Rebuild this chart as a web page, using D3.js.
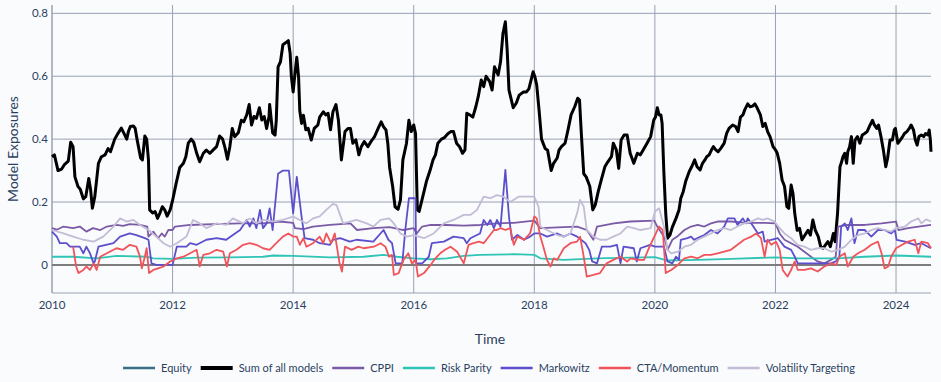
<!DOCTYPE html>
<html>
<head>
<meta charset="utf-8">
<script src="https://cdn.jsdelivr.net/npm/d3@7"></script>
<style>
  body { margin: 0; background: #fafbfd; }
  svg { display: block; font-family: Lato, "Open Sans", sans-serif; }
</style>
</head>
<body>
<div id="chart"></div>
<script>
// values, [decimal year, exposure]
var sumAll = [[2010.0,0.344],[2010.04,0.35],[2010.1,0.30],[2010.16,0.305],[2010.21,0.32],[2010.27,0.33],[2010.31,0.39],[2010.35,0.375],[2010.38,0.28],[2010.43,0.25],[2010.47,0.24],[2010.52,0.21],[2010.56,0.217],[2010.61,0.275],[2010.64,0.24],[2010.67,0.18],[2010.71,0.217],[2010.77,0.323],[2010.82,0.344],[2010.88,0.35],[2010.93,0.37],[2010.97,0.36],[2011.04,0.40],[2011.1,0.42],[2011.15,0.435],[2011.19,0.42],[2011.24,0.40],[2011.27,0.426],[2011.30,0.44],[2011.35,0.442],[2011.38,0.434],[2011.41,0.40],[2011.47,0.34],[2011.5,0.334],[2011.54,0.41],[2011.57,0.40],[2011.6,0.334],[2011.62,0.175],[2011.67,0.165],[2011.71,0.17],[2011.75,0.148],[2011.79,0.165],[2011.83,0.185],[2011.87,0.175],[2011.91,0.155],[2011.96,0.175],[2012.0,0.205],[2012.06,0.26],[2012.12,0.31],[2012.18,0.323],[2012.22,0.344],[2012.26,0.387],[2012.31,0.40],[2012.35,0.39],[2012.4,0.355],[2012.45,0.328],[2012.51,0.355],[2012.56,0.365],[2012.62,0.355],[2012.67,0.365],[2012.73,0.376],[2012.78,0.41],[2012.83,0.40],[2012.87,0.372],[2012.91,0.336],[2012.95,0.376],[2012.99,0.434],[2013.03,0.408],[2013.09,0.42],[2013.14,0.46],[2013.18,0.455],[2013.23,0.477],[2013.27,0.51],[2013.31,0.445],[2013.35,0.472],[2013.39,0.466],[2013.44,0.50],[2013.48,0.461],[2013.52,0.472],[2013.56,0.434],[2013.6,0.472],[2013.61,0.51],[2013.66,0.42],[2013.7,0.413],[2013.72,0.46],[2013.75,0.63],[2013.79,0.646],[2013.83,0.70],[2013.88,0.707],[2013.92,0.713],[2013.95,0.673],[2013.97,0.60],[2014.0,0.55],[2014.03,0.608],[2014.06,0.66],[2014.09,0.598],[2014.11,0.49],[2014.14,0.45],[2014.17,0.476],[2014.21,0.43],[2014.25,0.434],[2014.30,0.397],[2014.35,0.434],[2014.41,0.445],[2014.44,0.47],[2014.50,0.487],[2014.54,0.477],[2014.58,0.482],[2014.62,0.43],[2014.66,0.487],[2014.71,0.51],[2014.75,0.461],[2014.80,0.334],[2014.86,0.424],[2014.91,0.434],[2014.95,0.434],[2014.99,0.387],[2015.04,0.398],[2015.09,0.35],[2015.13,0.376],[2015.18,0.392],[2015.24,0.376],[2015.29,0.392],[2015.35,0.408],[2015.41,0.434],[2015.46,0.455],[2015.5,0.439],[2015.54,0.429],[2015.57,0.387],[2015.6,0.31],[2015.65,0.25],[2015.69,0.185],[2015.74,0.177],[2015.78,0.207],[2015.82,0.334],[2015.88,0.387],[2015.92,0.46],[2015.96,0.424],[2016.0,0.445],[2016.03,0.418],[2016.06,0.175],[2016.09,0.17],[2016.15,0.217],[2016.21,0.265],[2016.27,0.30],[2016.32,0.334],[2016.36,0.35],[2016.4,0.387],[2016.46,0.40],[2016.51,0.405],[2016.57,0.418],[2016.62,0.424],[2016.66,0.424],[2016.71,0.387],[2016.76,0.376],[2016.81,0.355],[2016.85,0.366],[2016.88,0.482],[2016.93,0.477],[2016.98,0.47],[2017.03,0.503],[2017.07,0.535],[2017.12,0.588],[2017.16,0.567],[2017.2,0.60],[2017.26,0.583],[2017.3,0.556],[2017.34,0.63],[2017.4,0.604],[2017.44,0.646],[2017.48,0.736],[2017.52,0.773],[2017.55,0.683],[2017.58,0.556],[2017.62,0.524],[2017.65,0.50],[2017.7,0.514],[2017.75,0.54],[2017.82,0.55],[2017.87,0.55],[2017.91,0.56],[2017.98,0.614],[2018.01,0.598],[2018.04,0.572],[2018.08,0.49],[2018.12,0.40],[2018.18,0.37],[2018.22,0.365],[2018.28,0.30],[2018.32,0.323],[2018.38,0.34],[2018.41,0.365],[2018.45,0.376],[2018.51,0.387],[2018.56,0.43],[2018.61,0.477],[2018.67,0.503],[2018.72,0.53],[2018.75,0.524],[2018.78,0.418],[2018.82,0.29],[2018.86,0.28],[2018.89,0.265],[2018.92,0.25],[2018.97,0.175],[2019.01,0.19],[2019.06,0.233],[2019.11,0.27],[2019.17,0.312],[2019.22,0.328],[2019.28,0.344],[2019.31,0.387],[2019.36,0.366],[2019.40,0.307],[2019.44,0.397],[2019.49,0.413],[2019.54,0.413],[2019.59,0.355],[2019.65,0.323],[2019.71,0.355],[2019.76,0.35],[2019.82,0.37],[2019.87,0.387],[2019.93,0.408],[2019.98,0.46],[2020.01,0.47],[2020.04,0.50],[2020.07,0.477],[2020.1,0.477],[2020.12,0.45],[2020.15,0.29],[2020.18,0.164],[2020.21,0.085],[2020.25,0.095],[2020.29,0.12],[2020.35,0.148],[2020.4,0.175],[2020.43,0.212],[2020.47,0.233],[2020.51,0.265],[2020.57,0.297],[2020.61,0.312],[2020.66,0.334],[2020.7,0.312],[2020.75,0.302],[2020.79,0.323],[2020.83,0.334],[2020.86,0.344],[2020.9,0.35],[2020.94,0.366],[2020.97,0.376],[2021.01,0.366],[2021.05,0.36],[2021.09,0.37],[2021.15,0.387],[2021.19,0.418],[2021.23,0.434],[2021.29,0.445],[2021.34,0.44],[2021.38,0.424],[2021.42,0.47],[2021.46,0.477],[2021.49,0.493],[2021.54,0.512],[2021.58,0.503],[2021.62,0.505],[2021.66,0.512],[2021.7,0.498],[2021.75,0.477],[2021.79,0.44],[2021.83,0.45],[2021.87,0.424],[2021.91,0.408],[2021.96,0.376],[2022.0,0.366],[2022.03,0.355],[2022.07,0.323],[2022.11,0.27],[2022.15,0.25],[2022.19,0.185],[2022.22,0.18],[2022.26,0.254],[2022.29,0.228],[2022.32,0.164],[2022.36,0.11],[2022.4,0.116],[2022.44,0.08],[2022.49,0.095],[2022.54,0.11],[2022.58,0.095],[2022.62,0.143],[2022.66,0.111],[2022.71,0.09],[2022.75,0.058],[2022.79,0.053],[2022.83,0.064],[2022.87,0.074],[2022.91,0.058],[2022.96,0.10],[2022.99,0.074],[2023.03,0.164],[2023.07,0.312],[2023.09,0.323],[2023.12,0.344],[2023.15,0.355],[2023.18,0.323],[2023.2,0.36],[2023.23,0.376],[2023.26,0.408],[2023.29,0.323],[2023.32,0.397],[2023.36,0.408],[2023.4,0.387],[2023.44,0.413],[2023.48,0.418],[2023.52,0.424],[2023.57,0.445],[2023.61,0.46],[2023.64,0.445],[2023.68,0.434],[2023.71,0.445],[2023.75,0.408],[2023.79,0.365],[2023.83,0.312],[2023.86,0.339],[2023.9,0.397],[2023.94,0.397],[2023.97,0.429],[2023.99,0.434],[2024.03,0.387],[2024.07,0.397],[2024.11,0.408],[2024.14,0.418],[2024.18,0.424],[2024.22,0.434],[2024.25,0.445],[2024.29,0.429],[2024.32,0.397],[2024.35,0.381],[2024.38,0.408],[2024.42,0.413],[2024.46,0.408],[2024.49,0.418],[2024.53,0.413],[2024.55,0.429],[2024.57,0.397],[2024.58,0.36]];

var cppi = [[2010.0,0.117],[2010.08,0.112],[2010.19,0.122],[2010.35,0.117],[2010.46,0.122],[2010.57,0.106],[2010.68,0.117],[2010.8,0.111],[2010.91,0.122],[2011.07,0.127],[2011.18,0.124],[2011.29,0.13],[2011.46,0.127],[2011.58,0.122],[2011.6,0.09],[2011.68,0.106],[2011.76,0.085],[2011.82,0.1],[2011.87,0.09],[2011.93,0.111],[2012.0,0.111],[2012.04,0.122],[2012.29,0.127],[2012.67,0.13],[2013.12,0.132],[2013.5,0.132],[2013.78,0.138],[2014.0,0.134],[2014.03,0.117],[2014.17,0.114],[2014.33,0.122],[2014.61,0.127],[2014.95,0.132],[2015.06,0.111],[2015.33,0.117],[2015.6,0.12],[2015.83,0.111],[2016.0,0.117],[2016.05,0.1],[2016.14,0.122],[2016.28,0.127],[2016.55,0.127],[2016.83,0.125],[2017.1,0.127],[2017.38,0.132],[2017.66,0.134],[2018.0,0.141],[2018.1,0.117],[2018.49,0.12],[2018.71,0.122],[2018.87,0.111],[2018.98,0.08],[2019.04,0.122],[2019.32,0.132],[2019.59,0.138],[2019.99,0.141],[2020.04,0.122],[2020.15,0.09],[2020.21,0.048],[2020.29,0.08],[2020.37,0.09],[2020.49,0.111],[2020.6,0.122],[2020.71,0.127],[2020.82,0.122],[2020.93,0.132],[2021.04,0.138],[2021.26,0.138],[2021.54,0.134],[2021.82,0.134],[2022.0,0.132],[2022.07,0.1],[2022.15,0.08],[2022.26,0.069],[2022.37,0.058],[2022.48,0.042],[2022.59,0.026],[2022.7,0.011],[2022.81,0.005],[2022.92,0.016],[2023.0,0.026],[2023.04,0.122],[2023.2,0.127],[2023.48,0.127],[2023.76,0.132],[2024.0,0.138],[2024.04,0.111],[2024.2,0.117],[2024.37,0.122],[2024.58,0.127]];

var riskParity = [[2010.0,0.026],[2010.35,0.026],[2010.74,0.021],[2011.07,0.029],[2011.57,0.026],[2011.68,0.021],[2012.01,0.019],[2012.4,0.023],[2012.95,0.024],[2013.5,0.026],[2013.67,0.03],[2014.0,0.029],[2014.61,0.024],[2015.17,0.026],[2015.5,0.032],[2015.72,0.026],[2016.0,0.021],[2016.28,0.018],[2016.55,0.021],[2016.83,0.029],[2017.1,0.032],[2017.66,0.034],[2018.0,0.032],[2018.1,0.021],[2018.49,0.016],[2019.04,0.021],[2019.59,0.023],[2020.0,0.025],[2020.21,0.014],[2020.71,0.016],[2021.26,0.019],[2022.0,0.024],[2022.37,0.021],[2023.04,0.021],[2023.48,0.026],[2024.0,0.03],[2024.58,0.026]];

var markowitz = [[2010.0,0.106],[2010.08,0.09],[2010.13,0.069],[2010.24,0.069],[2010.3,0.058],[2010.46,0.058],[2010.52,0.037],[2010.57,0.058],[2010.63,0.037],[2010.69,0.005],[2010.71,0.011],[2010.77,0.058],[2011.02,0.069],[2011.13,0.09],[2011.29,0.1],[2011.4,0.095],[2011.54,0.085],[2011.6,0.08],[2011.65,0.005],[2011.73,0.0],[2012.0,0.0],[2012.07,0.058],[2012.23,0.058],[2012.29,0.069],[2012.4,0.064],[2012.56,0.08],[2012.73,0.085],[2012.89,0.08],[2013.0,0.095],[2013.12,0.111],[2013.23,0.143],[2013.28,0.122],[2013.34,0.148],[2013.39,0.117],[2013.45,0.175],[2013.5,0.117],[2013.56,0.132],[2013.61,0.18],[2013.66,0.111],[2013.75,0.29],[2013.83,0.30],[2013.93,0.30],[2014.0,0.164],[2014.06,0.28],[2014.14,0.153],[2014.19,0.085],[2014.33,0.08],[2014.44,0.069],[2014.61,0.064],[2014.66,0.08],[2014.78,0.085],[2014.94,0.074],[2015.05,0.08],[2015.33,0.074],[2015.5,0.111],[2015.58,0.08],[2015.64,0.069],[2015.7,0.005],[2015.81,0.005],[2015.86,0.111],[2015.92,0.212],[2016.03,0.212],[2016.04,0.005],[2016.14,0.005],[2016.25,0.026],[2016.3,0.069],[2016.5,0.074],[2016.66,0.09],[2016.83,0.085],[2016.88,0.069],[2016.94,0.085],[2017.1,0.1],[2017.16,0.143],[2017.22,0.127],[2017.27,0.143],[2017.33,0.117],[2017.38,0.143],[2017.44,0.122],[2017.52,0.302],[2017.58,0.153],[2017.63,0.08],[2017.72,0.095],[2017.83,0.08],[2017.93,0.09],[2018.0,0.1],[2018.1,0.1],[2018.21,0.09],[2018.38,0.1],[2018.49,0.09],[2018.6,0.1],[2018.71,0.09],[2018.85,0.069],[2018.91,0.048],[2018.96,0.011],[2019.04,0.005],[2019.12,0.058],[2019.26,0.058],[2019.37,0.064],[2019.43,0.005],[2019.48,0.058],[2019.65,0.053],[2019.7,0.011],[2019.76,0.053],[2019.92,0.064],[2020.0,0.058],[2020.15,0.058],[2020.21,0.011],[2020.29,0.005],[2020.35,0.026],[2020.4,0.016],[2020.43,0.08],[2020.54,0.085],[2020.6,0.09],[2020.65,0.08],[2020.76,0.09],[2020.82,0.095],[2020.93,0.111],[2021.04,0.1],[2021.15,0.122],[2021.21,0.148],[2021.32,0.148],[2021.37,0.127],[2021.46,0.148],[2021.51,0.132],[2021.54,0.148],[2021.6,0.132],[2021.71,0.1],[2021.79,0.106],[2021.82,0.074],[2021.93,0.08],[2022.04,0.085],[2022.15,0.058],[2022.26,0.048],[2022.32,0.026],[2022.37,0.005],[2022.7,0.005],[2022.92,0.005],[2023.0,0.011],[2023.06,0.026],[2023.09,0.122],[2023.15,0.132],[2023.2,0.111],[2023.26,0.148],[2023.31,0.069],[2023.37,0.111],[2023.48,0.111],[2023.59,0.09],[2023.7,0.111],[2023.81,0.111],[2023.92,0.1],[2023.98,0.111],[2024.01,0.08],[2024.15,0.074],[2024.31,0.064],[2024.42,0.069],[2024.53,0.058],[2024.58,0.053]];

var ctaMomentum = [[2010.35,0.058],[2010.4,-0.005],[2010.44,-0.026],[2010.52,-0.016],[2010.57,-0.005],[2010.63,-0.016],[2010.69,0.005],[2010.74,-0.016],[2010.8,0.026],[2010.91,0.037],[2011.07,0.053],[2011.18,0.048],[2011.29,0.064],[2011.4,0.058],[2011.46,0.026],[2011.49,-0.011],[2011.54,0.026],[2011.57,0.053],[2011.61,-0.026],[2011.68,-0.016],[2011.76,-0.011],[2011.85,-0.005],[2011.96,0.011],[2012.07,0.021],[2012.18,0.026],[2012.29,0.037],[2012.4,0.048],[2012.45,-0.005],[2012.51,0.032],[2012.62,0.037],[2012.73,0.048],[2012.84,0.042],[2012.9,-0.005],[2012.95,0.037],[2013.06,0.048],[2013.17,0.064],[2013.28,0.069],[2013.39,0.064],[2013.5,0.053],[2013.61,0.048],[2013.72,0.069],[2013.83,0.09],[2013.92,0.1],[2014.0,0.09],[2014.06,0.09],[2014.11,0.064],[2014.17,0.085],[2014.22,0.058],[2014.33,0.069],[2014.44,0.09],[2014.5,0.069],[2014.55,0.1],[2014.63,0.069],[2014.69,0.1],[2014.77,0.005],[2014.81,-0.021],[2014.86,0.058],[2014.97,0.048],[2015.08,0.058],[2015.17,0.053],[2015.34,0.058],[2015.45,0.069],[2015.53,0.058],[2015.59,0.026],[2015.64,0.032],[2015.67,-0.032],[2015.75,-0.026],[2015.83,0.016],[2015.91,0.037],[2015.97,0.005],[2016.03,0.016],[2016.07,-0.037],[2016.17,-0.026],[2016.28,0.0],[2016.36,0.021],[2016.44,0.037],[2016.52,0.048],[2016.61,0.058],[2016.72,0.042],[2016.83,0.005],[2016.91,0.064],[2016.99,0.069],[2017.08,0.074],[2017.16,0.069],[2017.33,0.111],[2017.38,0.111],[2017.44,0.117],[2017.52,0.111],[2017.6,0.117],[2017.66,0.064],[2017.72,0.09],[2017.83,0.08],[2017.93,0.1],[2018.0,0.154],[2018.04,0.148],[2018.1,0.09],[2018.15,0.058],[2018.21,0.016],[2018.27,-0.005],[2018.32,0.021],[2018.38,0.016],[2018.49,0.053],[2018.6,0.069],[2018.71,0.074],[2018.76,0.09],[2018.82,0.026],[2018.87,-0.037],[2018.98,-0.032],[2019.09,-0.026],[2019.2,0.005],[2019.31,0.016],[2019.43,0.026],[2019.54,0.011],[2019.6,0.021],[2019.71,0.016],[2019.82,0.016],[2019.9,0.053],[2019.99,0.09],[2020.07,0.122],[2020.13,0.111],[2020.18,-0.026],[2020.27,-0.016],[2020.38,0.0],[2020.49,0.021],[2020.6,0.026],[2020.71,0.021],[2020.82,0.032],[2020.93,0.032],[2021.04,0.037],[2021.15,0.042],[2021.26,0.048],[2021.37,0.064],[2021.48,0.08],[2021.6,0.09],[2021.68,0.1],[2021.76,0.085],[2021.82,0.026],[2021.87,0.08],[2021.93,0.064],[2022.01,0.074],[2022.07,0.048],[2022.12,-0.016],[2022.2,-0.037],[2022.26,-0.016],[2022.32,0.011],[2022.37,-0.016],[2022.48,-0.016],[2022.59,-0.011],[2022.7,-0.021],[2022.81,-0.005],[2022.93,0.005],[2023.01,0.0],[2023.06,0.026],[2023.15,0.037],[2023.2,-0.005],[2023.29,0.026],[2023.37,0.037],[2023.48,0.048],[2023.59,0.064],[2023.7,0.074],[2023.76,0.037],[2023.81,-0.011],[2023.87,-0.005],[2023.92,0.026],[2024.0,0.053],[2024.1,0.064],[2024.2,0.074],[2024.31,0.08],[2024.37,0.037],[2024.42,0.074],[2024.53,0.069],[2024.58,0.053]];

var volTargeting = [[2010.0,0.111],[2010.19,0.1],[2010.35,0.09],[2010.52,0.08],[2010.69,0.074],[2010.85,0.09],[2011.02,0.122],[2011.13,0.148],[2011.24,0.138],[2011.35,0.143],[2011.46,0.127],[2011.6,0.111],[2011.73,0.09],[2011.85,0.069],[2011.96,0.058],[2012.07,0.069],[2012.23,0.09],[2012.34,0.143],[2012.45,0.132],[2012.56,0.117],[2012.73,0.132],[2012.89,0.127],[2013.0,0.148],[2013.17,0.132],[2013.28,0.148],[2013.39,0.132],[2013.5,0.143],[2013.67,0.138],[2013.83,0.143],[2014.0,0.154],[2014.11,0.143],[2014.22,0.132],[2014.33,0.148],[2014.44,0.154],[2014.55,0.175],[2014.66,0.194],[2014.72,0.19],[2014.77,0.164],[2014.83,0.132],[2014.94,0.138],[2015.05,0.143],[2015.22,0.132],[2015.33,0.122],[2015.45,0.143],[2015.59,0.148],[2015.67,0.132],[2015.78,0.1],[2015.89,0.09],[2016.0,0.095],[2016.17,0.085],[2016.33,0.1],[2016.5,0.132],[2016.66,0.143],[2016.83,0.159],[2016.94,0.159],[2017.05,0.175],[2017.16,0.217],[2017.27,0.212],[2017.38,0.222],[2017.49,0.217],[2017.6,0.2],[2017.74,0.217],[2018.0,0.217],[2018.07,0.185],[2018.1,0.122],[2018.21,0.111],[2018.38,0.095],[2018.49,0.09],[2018.6,0.1],[2018.71,0.164],[2018.76,0.207],[2018.82,0.185],[2018.87,0.111],[2018.98,0.09],[2019.09,0.08],[2019.2,0.08],[2019.31,0.09],[2019.43,0.1],[2019.54,0.122],[2019.65,0.117],[2019.76,0.111],[2019.93,0.117],[2020.0,0.17],[2020.07,0.18],[2020.15,0.122],[2020.21,0.048],[2020.27,0.037],[2020.38,0.042],[2020.49,0.058],[2020.6,0.064],[2020.71,0.08],[2020.82,0.09],[2020.93,0.1],[2021.04,0.111],[2021.15,0.117],[2021.26,0.111],[2021.37,0.122],[2021.48,0.132],[2021.6,0.138],[2021.71,0.148],[2021.79,0.143],[2021.87,0.148],[2021.98,0.138],[2022.07,0.117],[2022.15,0.1],[2022.26,0.085],[2022.37,0.064],[2022.48,0.058],[2022.59,0.048],[2022.7,0.053],[2022.81,0.053],[2022.93,0.042],[2023.04,0.048],[2023.15,0.058],[2023.26,0.08],[2023.37,0.095],[2023.48,0.1],[2023.59,0.111],[2023.7,0.117],[2023.81,0.111],[2023.92,0.106],[2024.0,0.117],[2024.15,0.122],[2024.25,0.138],[2024.37,0.148],[2024.42,0.132],[2024.5,0.145],[2024.58,0.138]];

var seriesNames = ["Equity", "Sum of all models", "CPPI", "Risk Parity", "Markowitz", "CTA/Momentum", "Volatility Targeting"];
var seriesColors = ["#3a6e88", "#000000", "#7b5aa6", "#2ec4b6", "#5b4fcb", "#f0545a", "#c3bcd6"];
var seriesData = [null, sumAll, cppi, riskParity, markowitz, ctaMomentum, volTargeting];
var xTicks = [2010, 2012, 2014, 2016, 2018, 2020, 2022, 2024];
var yTicks = [0, 0.2, 0.4, 0.6, 0.8];

(function () {
    var W = 941, H = 382;
    var mLeft = 52, mRight = 931, mTop = 5, mBottom = 293;

    var svg = d3.select("#chart").append("svg")
        .attr("width", W)
        .attr("height", H);

    var x = d3.scaleLinear().domain([2010, 2024.58]).range([mLeft, mRight]);
    var y = d3.scaleLinear().domain([-0.0893, 0.8265]).range([mBottom, mTop]);

    // grid
    svg.append("g").selectAll("line")
        .data(yTicks.filter(function (d) { return d !== 0; }))
        .enter().append("line")
        .attr("x1", mLeft).attr("x2", mRight)
        .attr("y1", function (d) { return y(d); })
        .attr("y2", function (d) { return y(d); })
        .attr("stroke", "#98a1b3").attr("stroke-width", 1);

    svg.append("g").selectAll("line")
        .data(xTicks)
        .enter().append("line")
        .attr("x1", function (d) { return x(d); })
        .attr("x2", function (d) { return x(d); })
        .attr("y1", mTop).attr("y2", mBottom)
        .attr("stroke", "#98a1b3").attr("stroke-width", 1);

    // axis lines
    svg.append("line").attr("x1", mLeft).attr("x2", mLeft).attr("y1", mTop).attr("y2", mBottom)
        .attr("stroke", "#98a1b3").attr("stroke-width", 1);
    svg.append("line").attr("x1", mLeft).attr("x2", mRight).attr("y1", mBottom).attr("y2", mBottom)
        .attr("stroke", "#98a1b3").attr("stroke-width", 1);

    // zero line
    svg.append("line").attr("x1", mLeft).attr("x2", mRight)
        .attr("y1", y(0)).attr("y2", y(0))
        .attr("stroke", "#7d7d7d").attr("stroke-width", 2);

    // tick labels
    svg.append("g").selectAll("text")
        .data(xTicks)
        .enter().append("text")
        .attr("x", function (d) { return x(d); })
        .attr("y", mBottom + 16)
        .attr("text-anchor", "middle")
        .attr("font-size", 11.5)
        .attr("fill", "#2a3f5f")
        .text(function (d) { return d; });

    svg.append("g").selectAll("text")
        .data(yTicks)
        .enter().append("text")
        .attr("x", mLeft - 4)
        .attr("y", function (d) { return y(d) + 4; })
        .attr("text-anchor", "end")
        .attr("font-size", 11.5)
        .attr("fill", "#2a3f5f")
        .text(function (d) { return d === 0 ? "0" : d3.format(".1f")(d); });

    // axis titles
    svg.append("text")
        .attr("x", 490)
        .attr("y", 344)
        .attr("text-anchor", "middle")
        .attr("font-size", 14)
        .attr("fill", "#2a3f5f")
        .text("Time");

    svg.append("text")
        .attr("transform", "translate(18," + ((mTop + mBottom) / 2) + ") rotate(-90)")
        .attr("text-anchor", "middle")
        .attr("font-size", 14)
        .attr("fill", "#2a3f5f")
        .text("Model Exposures");

    // lines
    var line = d3.line()
        .x(function (d) { return x(d[0]); })
        .y(function (d) { return y(d[1]); });

    var plot = svg.append("g");
    seriesData.forEach(function (data, i) {
        if (!data) return;
        plot.append("path")
            .datum(data)
            .attr("fill", "none")
            .attr("stroke", seriesColors[i])
            .attr("stroke-width", i === 1 ? 3 : 1.8)
            .attr("stroke-linejoin", "round")
            .attr("d", line);
    });

    // legend
    var legend = svg.append("g");
    var lx = 0;
    seriesNames.forEach(function (name, i) {
        var g = legend.append("g").attr("transform", "translate(" + lx + ",0)");
        g.append("line")
            .attr("x1", 0).attr("x2", 32)
            .attr("y1", 0).attr("y2", 0)
            .attr("stroke", seriesColors[i])
            .attr("stroke-width", i === 1 ? 4 : 2.5);
        var t = g.append("text")
            .attr("x", 38).attr("y", 4)
            .attr("font-size", 11)
            .attr("fill", "#2a3f5f")
            .text(name);
        lx += 38 + t.node().getComputedTextLength() + 9;
    });
    var legendWidth = lx - 9;
    legend.attr("transform", "translate(" + (489 - legendWidth / 2) + ",368)");
})();
</script>
</body>
</html>
